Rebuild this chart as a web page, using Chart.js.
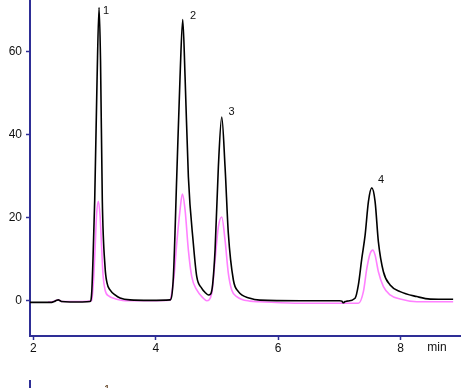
<!DOCTYPE html>
<html lang="en">
<head>
    <meta charset="UTF-8">
    <title>Chromatogram</title>
    <style>
        body {
            margin: 0;
            background: white;
        }
        #chart {
            display: block;
        }
    </style>
</head>
<body>
    <canvas id="chart" width="466" height="388"></canvas>

    <script src="https://cdn.jsdelivr.net/npm/chart.js"></script>
    <script>
        // Black trace (retention time in min, signal)
        const blackT = [1.946, 2.10, 2.25, 2.30, 2.34, 2.382, 2.408, 2.44, 2.464, 2.60, 2.80, 2.926,
            2.954, 2.975, 3.003, 3.041, 3.074, 3.098, 3.127, 3.172, 3.204, 3.253, 3.335, 3.417, 3.58,
            3.91, 4.234, 4.288, 4.343, 4.397, 4.441, 4.479, 4.533, 4.614, 4.670, 4.752, 4.806, 4.859,
            4.90, 4.93, 4.969, 5.023, 5.078, 5.132, 5.186, 5.268, 5.35, 5.54, 5.70, 6.36, 7.00,
            7.039, 7.065, 7.093, 7.12, 7.256, 7.310, 7.366, 7.420, 7.474, 7.529, 7.583, 7.637, 7.719,
            7.828, 7.992, 8.265, 8.482, 8.858];
        const blackV = [-0.4, -0.4, -0.4, -0.4, -0.2, 0.1, 0.2, 0.0, -0.2, -0.3, -0.3, -0.2,
            1.9, 10, 24.3, 53, 70.7, 58, 24.3, 8.1, 4.3, 2.6, 1.4, 0.65, 0.2,
            0.1, 0.2, 5.8, 29.9, 54, 67.8, 54, 29.9, 13.8, 5.8, 3.0, 2.0, 1.4,
            1.7, 4.0, 12.2, 32.3, 44.3, 32.3, 16.2, 5.0, 2.2, 0.6, 0.15, 0.0, 0.0,
            -0.1, -0.5, -0.2, -0.1, 0.6, 3.8, 10.2, 15.8, 23.9, 27.2, 23.9, 14.2, 7.0,
            3.8, 2.2, 1.0, 0.4, 0.35];

        // Magenta trace
        const pinkT = [2.24, 2.30, 2.34, 2.382, 2.408, 2.44, 2.464, 2.60, 2.80, 2.954,
            2.984, 3.008, 3.033, 3.062, 3.090, 3.118, 3.139, 3.172, 3.237, 3.302, 3.498,
            3.91, 4.234, 4.261, 4.300, 4.343, 4.397, 4.435, 4.479, 4.533, 4.588, 4.670, 4.778, 4.833,
            4.915, 4.969, 5.023, 5.078, 5.132, 5.186, 5.241, 5.322, 5.54, 5.70, 6.36, 7.00,
            7.310, 7.392, 7.448, 7.502, 7.546, 7.583, 7.637, 7.719, 7.828, 7.992, 8.265, 8.858];
        const pinkV = [-0.3, -0.3, -0.1, 0.1, 0.2, 0.0, -0.2, -0.2, -0.2, 0.0,
            5.0, 12.2, 20.6, 24.0, 20.6, 12.2, 6.2, 2.6, 1.1, 0.65, 0.0,
            0.0, 0.1, 1.8, 6.0, 13.8, 21.9, 25.7, 21.9, 12.2, 5.8, 2.6, 0.6, 0.0,
            1.8, 9.8, 17.8, 20.2, 14.6, 6.6, 2.6, 1.0, -0.1, -0.24, -0.6, -0.6,
            -0.6, 2.2, 7.8, 11.4, 12.2, 11.0, 7.0, 3.4, 1.4, 0.4, -0.24, -0.24];

        // Peak numbers and where they sit
        const peakNames = ['1', '2', '3', '4'];
        const peakLabelT = [3.188, 4.61, 5.239, 7.68];
        const peakLabelV = [69.8, 68.6, 45.5, 29.1];

        const xTicks = [2, 4, 6, 8];
        const yTicks = [0, 20, 40, 60];

        const axisBlue = '#2e2e96';
        const fontFamily = '"Liberation Sans", Arial, sans-serif';

        function toPoints(ts, vs) {
            return ts.map((t, i) => ({ x: t, y: vs[i] }));
        }

        function noPadding(s) {
            s.paddingTop = 0;
            s.paddingBottom = 0;
            s.paddingLeft = 0;
            s.paddingRight = 0;
        }

        // Peak numbers, "min" unit and the cut-off edge of the next chart below
        const extras = {
            id: 'extras',
            afterDatasetsDraw(chart) {
                const ctx = chart.ctx;
                const x = chart.scales.x;
                const y = chart.scales.y;
                ctx.save();
                ctx.fillStyle = '#111';
                ctx.font = '11px ' + fontFamily;
                ctx.textAlign = 'center';
                ctx.textBaseline = 'middle';
                peakNames.forEach((name, i) => {
                    ctx.fillText(name, x.getPixelForValue(peakLabelT[i]), y.getPixelForValue(peakLabelV[i]));
                });

                ctx.font = '12px ' + fontFamily;
                ctx.fillText('min', 437, 348);

                ctx.strokeStyle = axisBlue;
                ctx.lineWidth = 2;
                ctx.beginPath();
                ctx.moveTo(30, 380);
                ctx.lineTo(30, 388);
                ctx.stroke();
                ctx.font = '11px ' + fontFamily;
                ctx.textBaseline = 'alphabetic';
                ctx.fillStyle = '#553311';
                ctx.fillText('1', 107, 393);
                ctx.restore();
            }
        };

        new Chart(document.getElementById('chart'), {
            type: 'line',
            data: {
                datasets: [
                    {
                        label: 'black',
                        data: toPoints(blackT, blackV),
                        borderColor: '#000000',
                        borderWidth: 1.6,
                        pointRadius: 0,
                        cubicInterpolationMode: 'monotone',
                        order: 0
                    },
                    {
                        label: 'magenta',
                        data: toPoints(pinkT, pinkV),
                        borderColor: '#ff80ff',
                        borderWidth: 1.6,
                        pointRadius: 0,
                        cubicInterpolationMode: 'monotone',
                        order: 1
                    }
                ]
            },
            options: {
                responsive: false,
                animation: false,
                devicePixelRatio: 1,
                layout: { padding: { left: 0, right: 6, top: 0, bottom: 0 } },
                plugins: {
                    legend: { display: false },
                    tooltip: { enabled: false }
                },
                scales: {
                    x: {
                        type: 'linear',
                        min: 1.946,
                        max: 8.97,
                        afterFit: s => { s.height = 52; noPadding(s); },
                        afterBuildTicks: s => { s.ticks = xTicks.map(v => ({ value: v })); },
                        border: { color: axisBlue, width: 2 },
                        grid: { drawOnChartArea: false, drawTicks: true, tickLength: 4, tickColor: axisBlue, tickWidth: 1.5 },
                        ticks: { color: '#111', padding: 1, maxRotation: 0, font: { family: fontFamily, size: 12 } }
                    },
                    y: {
                        type: 'linear',
                        min: -8.5,
                        max: 72.5,
                        afterFit: s => { s.width = 30; noPadding(s); },
                        afterBuildTicks: s => { s.ticks = yTicks.map(v => ({ value: v })); },
                        border: { color: axisBlue, width: 2 },
                        grid: { drawOnChartArea: false, drawTicks: true, tickLength: 4, tickColor: axisBlue, tickWidth: 1.5 },
                        ticks: { color: '#111', padding: 4, font: { family: fontFamily, size: 12 } }
                    }
                }
            },
            plugins: [extras]
        });
    </script>
</body>
</html>
